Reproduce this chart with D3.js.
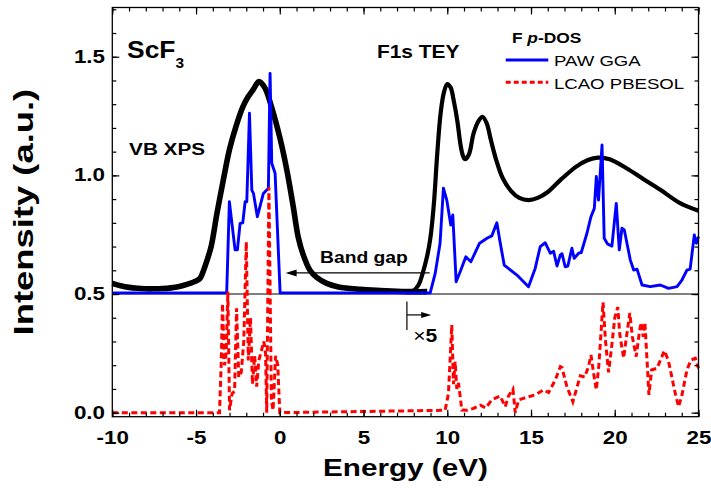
<!DOCTYPE html>
<html>
<head>
<meta charset="utf-8">
<script src="https://cdn.jsdelivr.net/npm/d3@7"></script>
<style>
  body { margin: 0; background: #fff; }
  text { font-family: "Liberation Sans", Arial, sans-serif; }
</style>
</head>
<body>
<script>
// ---- data (energy in eV, intensity in a.u.) ----
var vbXps = [[-10,0.545],[-9.5,0.535],[-9,0.528],[-8.5,0.524],[-8,0.522],[-7.5,0.522],[-7,0.523],
  [-6.5,0.526],[-6,0.532],[-5.5,0.542],[-5,0.555],[-4.76,0.566],[-4.6,0.59],[-4.4,0.63],[-4.1,0.70],
  [-3.75,0.84],[-3.4,0.97],[-3.0,1.11],[-2.6,1.21],[-2.2,1.29],[-1.9,1.33],[-1.6,1.36],[-1.25,1.395],
  [-0.9,1.37],[-0.5,1.29],[0.0,1.16],[0.4,1.03],[0.8,0.87],[1.1,0.74],[1.4,0.665],[1.8,0.60],
  [2.2,0.57],[2.8,0.545],[3.5,0.53],[4.8,0.52],[6,0.515],[7,0.512],[8,0.51],[8.8,0.51]];

var f1sTey = [[7.6,0.508],[8.0,0.515],[8.3,0.54],[8.5,0.58],[8.8,0.66],[9.0,0.74],[9.2,0.88],
  [9.4,1.09],[9.6,1.26],[9.8,1.35],[10.0,1.385],[10.2,1.37],[10.4,1.31],[10.6,1.23],[10.8,1.125],
  [10.95,1.08],[11.07,1.068],[11.3,1.09],[11.57,1.177],[11.87,1.23],[12.1,1.247],[12.35,1.22],
  [12.6,1.15],[12.9,1.07],[13.3,0.99],[13.8,0.935],[14.3,0.905],[14.85,0.896],[15.4,0.905],
  [16.0,0.93],[16.75,0.98],[17.7,1.037],[18.4,1.065],[19.0,1.075],[19.7,1.068],[20.7,1.03],
  [21.7,0.985],[22.7,0.94],[23.9,0.883],[25,0.851]];

var pawGga = [[-10,0.505],[-3.17,0.505],[-3.01,0.889],[-2.67,0.686],[-2.53,0.686],[-2.37,0.798],
  [-2.21,0.80],[-2.07,0.889],[-1.97,0.889],[-1.81,1.262],[-1.67,0.938],[-1.57,0.924],[-1.34,0.826],
  [-0.98,0.924],[-0.68,0.946],[-0.58,1.43],[-0.48,1.051],[-0.28,1.009],[0.02,0.505],[8.98,0.505],
  [9.28,0.587],[9.57,0.714],[9.77,0.946],[9.97,0.896],[10.21,0.791],[10.33,0.833],[10.53,0.552],
  [10.77,0.594],[11.11,0.657],[11.41,0.636],[11.7,0.68],[11.93,0.714],[12.37,0.735],[12.66,0.745],
  [12.96,0.80],[13.15,0.72],[13.4,0.622],[14.16,0.58],[14.85,0.531],[15.25,0.608],[15.55,0.70],
  [15.85,0.716],[16.15,0.672],[16.35,0.68],[16.55,0.618],[16.75,0.665],[16.85,0.67],[17.04,0.615],
  [17.2,0.618],[17.44,0.693],[17.58,0.65],[17.84,0.672],[18.0,0.675],[18.34,0.756],[18.58,0.826],
  [18.78,0.861],[18.9,0.995],[19.03,0.896],[19.24,1.128],[19.37,0.735],[19.57,0.711],[19.83,0.702],
  [20.09,0.882],[20.27,0.686],[20.43,0.777],[20.57,0.77],[20.93,0.643],[21.13,0.601],[21.33,0.605],
  [21.63,0.538],[22.12,0.531],[22.72,0.538],[23.21,0.524],[23.72,0.531],[24.01,0.559],[24.31,0.601],
  [24.5,0.605],[24.75,0.749],[24.87,0.714],[25,0.742]];

var lcaoPbesol = [[-10,0.0],[-3.6,0.0],[-3.5,0.2],[-3.42,0.46],[-3.3,0.2],[-3.2,0.25],[-3.1,0.51],
  [-3.0,0.01],[-2.85,0.08],[-2.7,0.09],[-2.58,0.44],[-2.45,0.15],[-2.3,0.17],[-2.15,0.3],[-2.0,0.72],
  [-1.88,0.22],[-1.75,0.40],[-1.63,0.12],[-1.5,0.24],[-1.38,0.11],[-1.25,0.22],[-1.1,0.26],
  [-0.95,0.3],[-0.85,0.25],[-0.78,0.0],[-0.65,0.95],[-0.5,0.05],[-0.4,0.01],[-0.25,0.24],
  [-0.12,0.2],[0.0,0.0],[9.87,0.01],[10.07,0.08],[10.27,0.37],[10.37,0.12],[10.47,0.215],
  [10.57,0.10],[10.67,0.125],[10.87,0.011],[11.2,0.01],[11.57,0.018],[11.97,0.032],[12.3,0.02],
  [12.66,0.054],[13.16,0.07],[13.46,0.025],[13.65,0.07],[13.92,0.099],[14.06,0.0],[14.26,0.054],
  [14.76,0.065],[15.25,0.075],[15.75,0.096],[16.05,0.085],[16.45,0.138],[16.75,0.194],[16.85,0.19],
  [17.14,0.11],[17.5,0.046],[17.94,0.155],[18.2,0.15],[18.43,0.194],[18.58,0.243],[18.75,0.16],
  [18.9,0.096],[19.05,0.2],[19.3,0.465],[19.45,0.3],[19.63,0.17],[19.85,0.3],[20.0,0.4],
  [20.18,0.445],[20.3,0.33],[20.53,0.23],[20.7,0.32],[20.9,0.42],[21.05,0.32],[21.28,0.236],
  [21.45,0.33],[21.57,0.38],[21.7,0.32],[21.8,0.38],[21.96,0.18],[22.04,0.075],[22.2,0.18],
  [22.52,0.187],[22.96,0.261],[23.2,0.22],[23.61,0.082],[23.81,0.025],[24.0,0.07],[24.31,0.18],
  [24.55,0.222],[24.81,0.229],[25,0.187]];

var xTicks = [-10, -5, 0, 5, 10, 15, 20, 25];
var yTicks = [0, 0.5, 1.0, 1.5];
var xMinor = d3.range(-10, 26, 1);
var yMinor = d3.range(0, 18, 1).map(function(k){ return k / 10; });

// ---- layout ----
var width = 711, height = 489;
var plotL = 112.3, plotR = 698.5, plotT = 7.5, plotB = 416.7;

var x = d3.scaleLinear().domain([-10, 25]).range([plotL, plotR]);
var y = d3.scaleLinear().domain([-0.017, 1.7075]).range([plotB, plotT]);

var svg = d3.select("body").append("svg")
  .attr("width", width).attr("height", height);

// small helper: text slightly stretched horizontally like the original export
function addText(px, py, size, sx) {
  return svg.append("text")
    .attr("transform", "translate(" + px + "," + py + ") scale(" + sx + ",1)")
    .attr("font-size", size)
    .attr("fill", "#000");
}

// reference line at 0.5
svg.append("line")
  .attr("x1", plotL).attr("x2", plotR)
  .attr("y1", y(0.5)).attr("y2", y(0.5))
  .attr("stroke", "#000").attr("stroke-width", 1.1);

var line = d3.line().x(function(d){ return x(d[0]); }).y(function(d){ return y(d[1]); });
var smooth = d3.line().x(function(d){ return x(d[0]); }).y(function(d){ return y(d[1]); })
  .curve(d3.curveCatmullRom.alpha(0.5));

svg.append("path").datum(vbXps)
  .attr("d", smooth).attr("fill", "none")
  .attr("stroke", "#000").attr("stroke-width", 5.6).attr("stroke-linejoin", "round");

svg.append("path").datum(f1sTey)
  .attr("d", smooth).attr("fill", "none")
  .attr("stroke", "#000").attr("stroke-width", 4.2).attr("stroke-linejoin", "round");

svg.append("path").datum(pawGga)
  .attr("d", line).attr("fill", "none")
  .attr("stroke", "#0000ff").attr("stroke-width", 2.9).attr("stroke-linejoin", "round");

svg.append("path").datum(lcaoPbesol)
  .attr("d", line).attr("fill", "none")
  .attr("stroke", "#ff0000").attr("stroke-width", 3)
  .attr("stroke-dasharray", "6,3.5");

// ---- axes (ticks inside on all four sides) ----
function styleAxis(g) {
  g.select(".domain").remove();
  g.selectAll(".tick line").attr("stroke", "#000").attr("stroke-width", 1.2);
}
function styleLabels(g) {
  g.selectAll(".tick text").attr("font-size", 17.5).attr("font-weight", "bold")
    .attr("font-family", "Liberation Sans, Arial, sans-serif")
    .attr("fill", "#000").attr("transform", "scale(1.28,1)");
}

svg.append("g").attr("transform", "translate(0," + plotB + ")")
  .call(d3.axisBottom(x).tickValues(xMinor).tickSize(-4).tickFormat(""))
  .call(styleAxis);
svg.append("g").attr("transform", "translate(0," + plotB + ")")
  .call(d3.axisBottom(x).tickValues(xTicks).tickSize(-7).tickPadding(15)
    .tickFormat(function(d){ return String(d); }))
  .call(styleAxis).call(styleLabels);

svg.append("g").attr("transform", "translate(0," + plotT + ")")
  .call(d3.axisTop(x).tickValues(xMinor).tickSize(-4).tickFormat(""))
  .call(styleAxis);
svg.append("g").attr("transform", "translate(0," + plotT + ")")
  .call(d3.axisTop(x).tickValues(xTicks).tickSize(-7).tickFormat(""))
  .call(styleAxis);

svg.append("g").attr("transform", "translate(" + plotL + ",0)")
  .call(d3.axisLeft(y).tickValues(yMinor).tickSize(-4).tickFormat(""))
  .call(styleAxis);
svg.append("g").attr("transform", "translate(" + plotL + ",0)")
  .call(d3.axisLeft(y).tickValues(yTicks).tickSize(-7).tickPadding(5.7).tickFormat(d3.format(".1f")))
  .call(styleAxis).call(styleLabels);

svg.append("g").attr("transform", "translate(" + plotR + ",0)")
  .call(d3.axisRight(y).tickValues(yMinor).tickSize(-4).tickFormat(""))
  .call(styleAxis);
svg.append("g").attr("transform", "translate(" + plotR + ",0)")
  .call(d3.axisRight(y).tickValues(yTicks).tickSize(-7).tickFormat(""))
  .call(styleAxis);

svg.append("rect")
  .attr("x", plotL).attr("y", plotT)
  .attr("width", plotR - plotL).attr("height", plotB - plotT)
  .attr("fill", "none").attr("stroke", "#000").attr("stroke-width", 1.3);

// ---- axis titles ----
addText((plotL + plotR) / 2, 476, 23, 1.29)
  .attr("text-anchor", "middle").attr("font-weight", "bold")
  .text("Energy (eV)");

svg.append("text")
  .attr("transform", "translate(33," + (plotT + plotB) / 2 + ") rotate(-90) scale(1.3,1)")
  .attr("text-anchor", "middle").attr("font-size", 28).attr("font-weight", "bold")
  .text("Intensity (a.u.)");

// ---- annotations ----
var sc = addText(x(-9.12), y(1.495), 24, 1.1).attr("font-weight", "bold");
sc.append("tspan").text("ScF");
sc.append("tspan").attr("font-size", 14).attr("dy", 10).text("3");

addText(x(-9.0), y(1.084), 17, 1.22).attr("font-weight", "bold").text("VB XPS");
addText(x(5.8), y(1.495), 19, 1.1).attr("font-weight", "bold").text("F1s TEY");
addText(x(2.4), y(0.631), 16.5, 1.17).attr("font-weight", "bold").text("Band gap");

// band gap arrow
svg.append("line")
  .attr("x1", x(8.95)).attr("x2", x(0.35) + 8)
  .attr("y1", y(0.589)).attr("y2", y(0.589))
  .attr("stroke", "#000").attr("stroke-width", 1.2);
svg.append("path")
  .attr("d", "M" + x(0.35) + "," + y(0.589) + "l11,-3.5v7z")
  .attr("fill", "#000");

// x5 scale marker
svg.append("line")
  .attr("x1", x(7.59)).attr("x2", x(7.59))
  .attr("y1", y(0.468)).attr("y2", y(0.348))
  .attr("stroke", "#000").attr("stroke-width", 1.2);
svg.append("line")
  .attr("x1", x(7.59)).attr("x2", x(9.04) - 8)
  .attr("y1", y(0.412)).attr("y2", y(0.412))
  .attr("stroke", "#000").attr("stroke-width", 1.2);
svg.append("path")
  .attr("d", "M" + x(9.04) + "," + y(0.412) + "l-10,-3v6z")
  .attr("fill", "#000");
var x5 = addText(x(7.97), y(0.297), 18, 1.17);
x5.append("tspan").text("\u00d7");
x5.append("tspan").attr("font-weight", "bold").text("5");

// ---- legend ----
var lg = addText(x(13.86), y(1.558), 14.5, 1.2).attr("font-weight", "bold");
lg.append("tspan").text("F ");
lg.append("tspan").attr("font-style", "italic").text("p");
lg.append("tspan").text("-DOS");

svg.append("line")
  .attr("x1", x(13.49)).attr("x2", x(16.03))
  .attr("y1", y(1.486)).attr("y2", y(1.486))
  .attr("stroke", "#0000ff").attr("stroke-width", 2.9);
addText(x(16.37), y(1.459), 15.5, 1.2).text("PAW GGA");

svg.append("line")
  .attr("x1", x(13.49)).attr("x2", x(16.03))
  .attr("y1", y(1.393)).attr("y2", y(1.393))
  .attr("stroke", "#ff0000").attr("stroke-width", 3)
  .attr("stroke-dasharray", "5,3");
addText(x(16.37), y(1.362), 15.5, 1.2).text("LCAO PBESOL");
</script>
</body>
</html>
